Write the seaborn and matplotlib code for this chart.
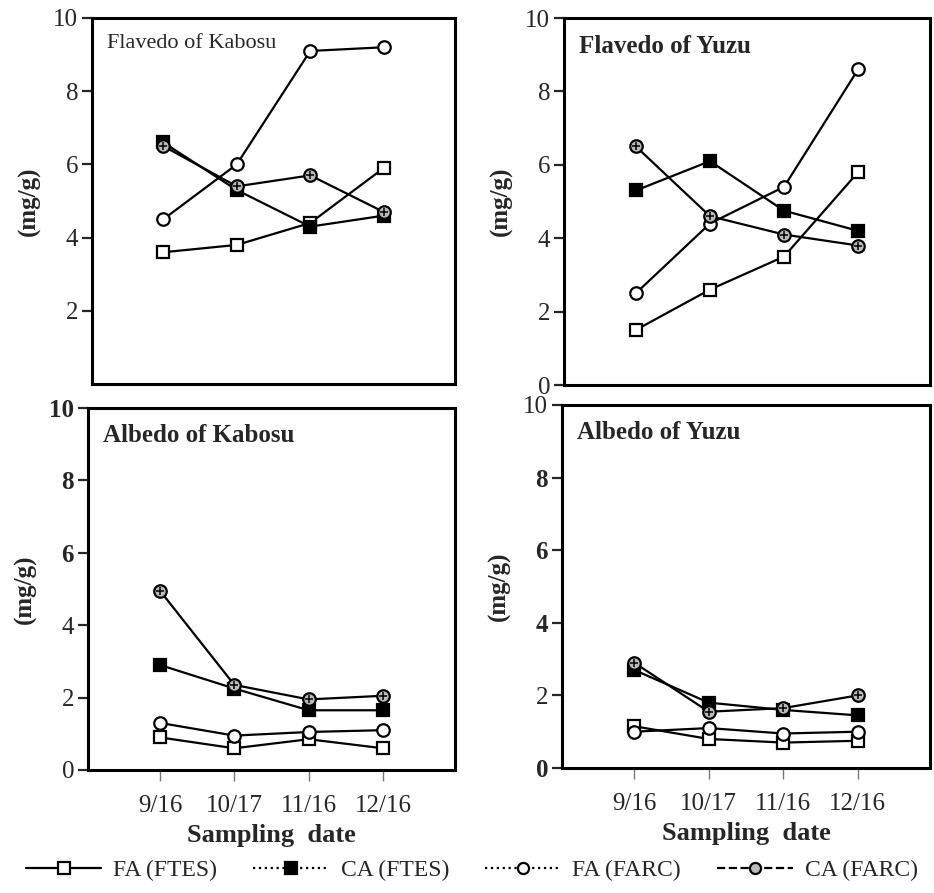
import matplotlib
matplotlib.use('Agg')
import matplotlib.pyplot as plt
import pandas as pd
import seaborn as sns
from matplotlib.lines import Line2D

dates = ['9/16', '10/17', '11/16', '12/16']
series = ['FA (FTES)', 'CA (FTES)', 'FA (FARC)', 'CA (FARC)']

# Flavedo of Kabosu
fk_fa_ftes = [3.6, 3.8, 4.4, 5.9]
fk_ca_ftes = [6.6, 5.3, 4.3, 4.6]
fk_fa_farc = [4.5, 6.0, 9.1, 9.2]
fk_ca_farc = [6.5, 5.4, 5.7, 4.7]

# Flavedo of Yuzu
fy_fa_ftes = [1.5, 2.6, 3.5, 5.8]
fy_ca_ftes = [5.3, 6.1, 4.75, 4.2]
fy_fa_farc = [2.5, 4.4, 5.4, 8.6]
fy_ca_farc = [6.5, 4.6, 4.1, 3.8]

# Albedo of Kabosu
ak_fa_ftes = [0.9, 0.6, 0.85, 0.6]
ak_ca_ftes = [2.9, 2.25, 1.65, 1.65]
ak_fa_farc = [1.3, 0.95, 1.05, 1.1]
ak_ca_farc = [4.95, 2.35, 1.95, 2.05]

# Albedo of Yuzu
ay_fa_ftes = [1.15, 0.8, 0.7, 0.75]
ay_ca_ftes = [2.7, 1.8, 1.6, 1.45]
ay_fa_farc = [1.0, 1.1, 0.95, 1.0]
ay_ca_farc = [2.9, 1.55, 1.65, 2.0]

panels = [
    ('Flavedo of Kabosu', [fk_fa_ftes, fk_ca_ftes, fk_fa_farc, fk_ca_farc]),
    ('Flavedo of Yuzu', [fy_fa_ftes, fy_ca_ftes, fy_fa_farc, fy_ca_farc]),
    ('Albedo of Kabosu', [ak_fa_ftes, ak_ca_ftes, ak_fa_farc, ak_ca_farc]),
    ('Albedo of Yuzu', [ay_fa_ftes, ay_ca_ftes, ay_fa_farc, ay_ca_farc]),
]

rows = []
for title, vals in panels:
    for name, v in zip(series, vals):
        for i, d in enumerate(dates):
            rows.append({'panel': title, 'series': name, 'pos': i, 'date': d, 'value': v[i]})
df = pd.DataFrame(rows)

sns.set_theme(style='ticks')
plt.rcParams['font.family'] = ['Liberation Serif', 'DejaVu Serif']

styles = {
    'FA (FTES)': dict(marker='s', mfc='white', ms=9, ls='-'),
    'CA (FTES)': dict(marker='s', mfc='black', ms=9, ls=':'),
    'FA (FARC)': dict(marker='o', mfc='white', ms=9, ls=':'),
    'CA (FARC)': dict(marker='o', mfc='#bbbbbb', ms=9, ls='--'),
}

fig = plt.figure(figsize=(9.34, 8.93), dpi=100)
W, H = 934, 893
boxes = [(92, 455, 18, 384), (564, 930, 18, 385), (88, 455, 408, 770), (562, 930, 405, 768)]

title_weight = ['normal', 'bold', 'bold', 'bold']
title_size = [16, 18, 18, 18]
for k, ((title, vals), (l, r, t, b)) in enumerate(zip(panels, boxes)):
    ax = fig.add_axes([l / W, 1 - b / H, (r - l) / W, (b - t) / H])
    sub = df[df['panel'] == title]
    for name in series:
        d = sub[sub['series'] == name]
        st = styles[name]
        sns.lineplot(data=d, x='pos', y='value', ax=ax, color='black', lw=1.6,
                     marker=st['marker'], markersize=st['ms'], markerfacecolor=st['mfc'],
                     markeredgecolor='black', markeredgewidth=1.6, legend=False)
        if name == 'CA (FARC)':
            ax.plot(d['pos'], d['value'], ls='none', marker='+', ms=6, mew=1.1, color='black')
    ax.set_xlim(-0.97, 3.97)
    ax.set_ylim(0, 10)
    if k == 0:
        ax.set_yticks([2, 4, 6, 8, 10])
    else:
        ax.set_yticks([0, 2, 4, 6, 8, 10])
    for sp in ax.spines.values():
        sp.set_visible(True)
        sp.set_linewidth(2.2)
        sp.set_color('black')
    ax.text(0.04, 0.955, title, transform=ax.transAxes, ha='left', va='top',
            fontsize=title_size[k], fontweight=title_weight[k])
    ax.set_ylabel('(mg/g)', fontsize=18, fontweight='bold')
    ax.tick_params(axis='y', direction='out', length=7, width=1.6, labelsize=18, pad=3)
    if k < 2:
        ax.set_xticks([])
        ax.set_xlabel('')
    else:
        ax.set_xticks(range(len(dates)))
        ax.set_xticklabels(dates, fontsize=18)
        ax.tick_params(axis='x', direction='out', length=8, width=1.0, color='#777777', pad=10)
        ax.set_xlabel('Sampling  date', fontsize=19, fontweight='bold', labelpad=5)
    if k == 2:
        for lab, w in zip(ax.get_yticklabels(), ['normal', 'normal', 'normal', 'bold', 'bold', 'bold']):
            lab.set_fontweight(w)
    if k == 3:
        for lab, w in zip(ax.get_yticklabels(), ['bold', 'normal', 'bold', 'bold', 'bold', 'normal']):
            lab.set_fontweight(w)
    ax.yaxis.set_label_coords(-0.14, 0.5)

handles = [Line2D([0], [0], color='black', lw=1.6, ls=styles[n]['ls'], marker=styles[n]['marker'],
                  ms=8, mfc=styles[n]['mfc'], mec='black', mew=1.6) for n in series]
fig.legend(handles, series, loc='lower left', bbox_to_anchor=(0.015, 0.0, 0.98, 0.04), ncol=4,
           mode='expand', frameon=False, fontsize=17, handlelength=3.2, handletextpad=0.5,
           borderaxespad=0.1)

fig.savefig('out.png', dpi=100)
